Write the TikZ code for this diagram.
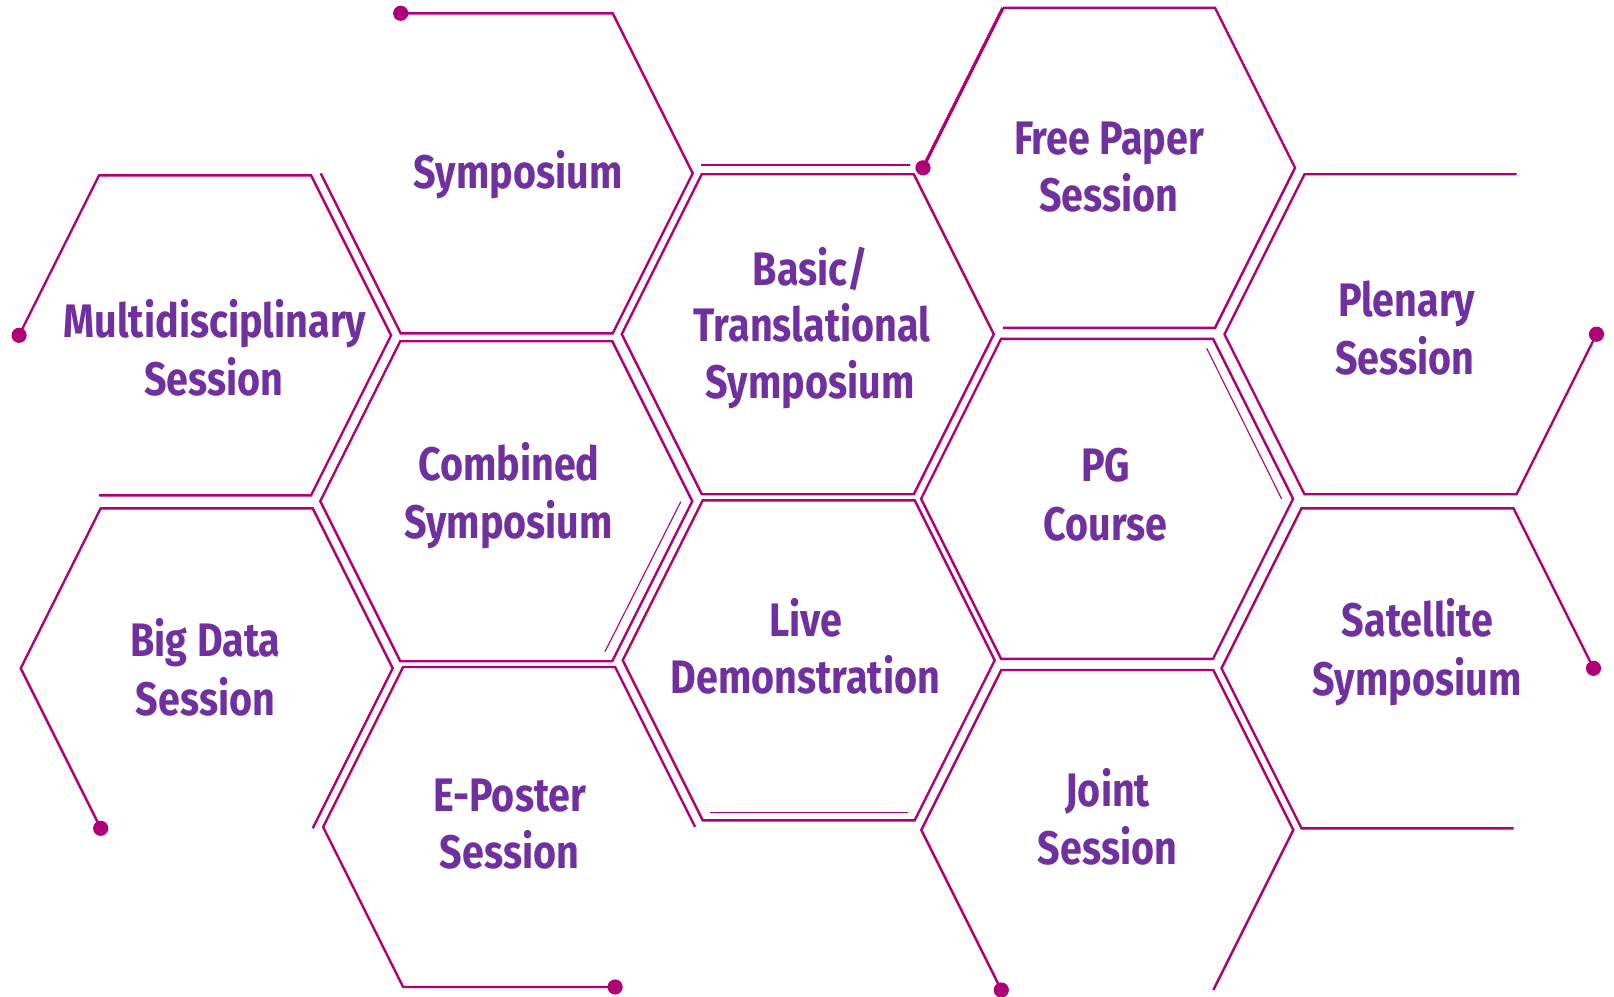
\documentclass[tikz,border=0pt]{standalone}
\usepackage{fontspec}
\newfontfamily\lblfont{Fira Sans}[FakeStretch=0.84]
\definecolor{hexline}{RGB}{176,0,120}
\definecolor{lbl}{RGB}{112,48,160}
\newcommand\defhex[3]{%
  \coordinate (#1R) at ({#2+186},{#3});
  \coordinate (#1TR) at ({#2+106},{#3-160});
  \coordinate (#1TL) at ({#2-106},{#3-160});
  \coordinate (#1L) at ({#2-186},{#3});
  \coordinate (#1BL) at ({#2-106},{#3+160});
  \coordinate (#1BR) at ({#2+106},{#3+160});
}
\tikzset{
  hexedge/.style={draw=hexline, line width=1.2pt},
  thickedge/.style={draw=hexline, line width=1.6pt},
  thinedge/.style={draw=hexline, line width=0.55pt},
  enddot/.style={fill=hexline, circle, inner sep=0pt, minimum size=7.6pt},
  lbltext/.style={text=lbl, font=\lblfont\bfseries\fontsize{23.5pt}{28pt}\selectfont, anchor=base, inner sep=0pt},
}
\begin{document}
\begin{tikzpicture}[x=0.5pt,y=-0.5pt]
\useasboundingbox (0,0) rectangle (1614,997);
% hexagon centres
\defhex{sym}{506.7}{173.3}
\defhex{mul}{205.1}{335.3}
\defhex{bas}{807.8}{334.2}
\defhex{fre}{1109}{167.8}
\defhex{ple}{1410.5}{334.2}
\defhex{com}{506.3}{501.2}
\defhex{pgc}{1107.1}{498.8}
\defhex{big}{206.7}{668.3}
\defhex{liv}{808.7}{660.3}
\defhex{sat}{1407.5}{668.3}
\defhex{epo}{509.1}{827}
\defhex{joi}{1107.3}{830}
% outlines
\path[hexedge] (symTL) -- (symTR) -- (symR) -- (symBR) -- (symBL) -- (symL);
\path[hexedge] (mulL) -- (mulTL) -- (mulTR) -- (mulR) -- (mulBR) -- (mulBL);
\path[hexedge] (basTL) -- (basTR) -- (basR) -- (basBR) -- (basBL) -- (basL) -- cycle;
\path[thickedge] (freL) -- (freTL);
\path[hexedge] (freTL) -- (freTR) -- (freR) -- (freBR) -- (freBL);
\path[hexedge] (pleR) -- (pleBR) -- (pleBL) -- (pleL) -- (pleTL) -- (pleTR);
\path[hexedge] (comTL) -- (comTR) -- (comR) -- (comBR) -- (comBL) -- (comL) -- cycle;
\path[hexedge] (pgcTL) -- (pgcTR) -- (pgcR) -- (pgcBR) -- (pgcBL) -- (pgcL) -- cycle;
\path[hexedge] (bigBL) -- (bigL) -- (bigTL) -- (bigTR) -- (bigR) -- (bigBR);
\path[hexedge] (livTL) -- (livTR) -- (livR) -- (livBR) -- (livBL) -- (livL) -- cycle;
\path[hexedge] (satR) -- (satTR) -- (satTL) -- (satL) -- (satBL) -- (satBR);
\path[hexedge] (epoBR) -- (epoBL) -- (epoL) -- (epoTL) -- (epoTR) -- (epoR);
\path[hexedge] (joiBL) -- (joiL) -- (joiTL) -- (joiTR) -- (joiR) -- (joiBR);
% thin accent lines
\coordinate (t1a) at (700.7,165); \coordinate (t1b) at (910,165);
\coordinate (t2a) at (680.8,501.7); \coordinate (t2b) at (604.9,651.7);
\coordinate (t3a) at (1206.7,348.3); \coordinate (t3b) at (1281.7,499);
\coordinate (t4a) at (709.8,812.3); \coordinate (t4b) at (908,812.3);
\path[thinedge] (t1a) -- (t1b);
\path[thinedge] (t2a) -- (t2b);
\path[thinedge] (t3a) -- (t3b);
\path[thinedge] (t4a) -- (t4b);
% end dots
\node[enddot] (d1) at (symTL) {};
\node[enddot] (d2) at (mulL) {};
\node[enddot] (d3) at (freL) {};
\node[enddot] (d4) at (pleR) {};
\node[enddot] (d5) at (bigBL) {};
\node[enddot] (d6) at (satR) {};
\node[enddot] (d7) at (epoBR) {};
\node[enddot] (d8) at (joiBL) {};
% labels
\node[lbltext] (symA) at (518,188.3) {Symposium};
\node[lbltext] (mulA) at (215,337.3) {Multidisciplinary};
\node[lbltext] (mulB) at (213.8,395) {Session};
\node[lbltext] (comA) at (509,480) {Combined};
\node[lbltext] (comB) at (508.5,538.3) {Symposium};
\node[lbltext] (basA) at (810.5,285) {Basic/};
\node[lbltext] (basB) at (812,341.7) {Translational};
\node[lbltext] (basC) at (810,398.3) {Symposium};
\node[lbltext] (freA) at (1109,154) {Free Paper};
\node[lbltext] (freB) at (1108.6,211.7) {Session};
\node[lbltext] (pleA) at (1406.7,316) {Plenary};
\node[lbltext] (pleB) at (1405,374) {Session};
\node[lbltext] (pgcA) at (1105.6,481.7) {PG};
\node[lbltext] (pgcB) at (1105.8,540) {Course};
\node[lbltext] (livA) at (806,636) {Live};
\node[lbltext] (livB) at (805.4,693.3) {Demonstration};
\node[lbltext] (bigA) at (205.4,656.7) {Big Data};
\node[lbltext] (bigB) at (205.4,715) {Session};
\node[lbltext] (epoA) at (509.8,811) {E-Poster};
\node[lbltext] (epoB) at (509.6,868.3) {Session};
\node[lbltext] (joiA) at (1107.8,806) {Joint};
\node[lbltext] (joiB) at (1107.4,864) {Session};
\node[lbltext] (satA) at (1417.5,636.7) {Satellite};
\node[lbltext] (satB) at (1417,695) {Symposium};
\end{tikzpicture}
\end{document}
